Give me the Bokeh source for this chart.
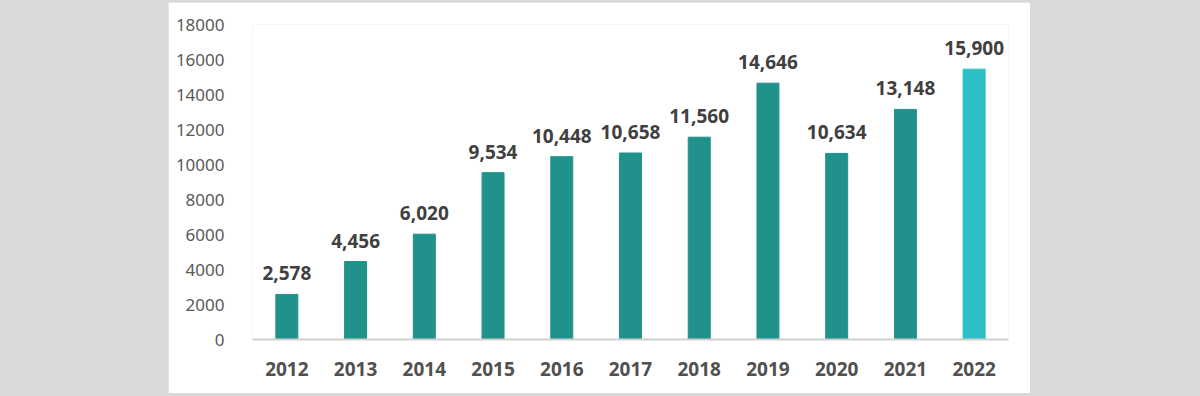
from bokeh.plotting import figure
from bokeh.models import ColumnDataSource, Spacer, FixedTicker, Range1d
from bokeh.layouts import row, column
from bokeh.embed import file_html
from bokeh.resources import INLINE
from bokeh.core.properties import value

years = ["2012", "2013", "2014", "2015", "2016", "2017", "2018", "2019", "2020", "2021", "2022"]
# values printed above the bars
labelled_counts = [2578, 4456, 6020, 9534, 10448, 10658, 11560, 14646, 10634, 13148, 15900]
# bar heights as drawn (the 2022 bar is drawn lower than its printed value)
bar_heights = [2578, 4456, 6020, 9534, 10448, 10658, 11560, 14646, 10634, 13148, 15450]
y_ticks = [0, 2000, 4000, 6000, 8000, 10000, 12000, 14000, 16000, 18000]

BASE = "#21918c"
HIGHLIGHT = "#2cbfc5"
FONT = "Noto Sans"

src = ColumnDataSource(dict(
    x=years,
    top=bar_heights,
    label=[f"{v:,}" for v in labelled_counts],
    color=[HIGHLIGHT if i == len(years) - 1 else BASE for i in range(len(years))],
))

p = figure(x_range=years, y_range=Range1d(0, 18000), width=862, height=391,
           output_backend="svg", toolbar_location=None,
           min_border_left=84, min_border_right=22, min_border_top=22, min_border_bottom=54)
p.background_fill_color = "#ffffff"
p.border_fill_color = "#ffffff"
p.outline_line_color = None

p.vbar(x="x", top="top", width=0.32, color="color", source=src)
p.text(x="x", y="top", text="label", source=src, text_align="center", text_baseline="bottom",
       y_offset=-14, text_font=value(FONT), text_font_style="bold", text_font_size="19px",
       text_color="#404040")

p.xgrid.visible = False
p.ygrid.visible = False

p.yaxis.ticker = FixedTicker(ticks=y_ticks)
p.yaxis.axis_line_color = None
p.yaxis.major_tick_line_color = None
p.yaxis.minor_tick_line_color = None
p.yaxis.major_label_standoff = 22
p.yaxis.major_label_text_font = FONT
p.yaxis.major_label_text_font_size = "17px"
p.yaxis.major_label_text_color = "#595959"

p.xaxis.axis_line_color = "#d0d0d0"
p.xaxis.axis_line_width = 2
p.xaxis.major_tick_line_color = None
p.xaxis.minor_tick_line_color = None
p.xaxis.major_label_standoff = 16
p.xaxis.major_label_text_font = FONT
p.xaxis.major_label_text_font_style = "bold"
p.xaxis.major_label_text_font_size = "19px"
p.xaxis.major_label_text_color = "#505050"

layout = column(Spacer(width=1030, height=2), row(Spacer(width=168, height=391), p))

html = file_html(layout, INLINE)
html = html.replace("</head>", "<style>html,body{background:#d9d9d9;}</style></head>", 1)
open("out.html", "w").write(html)
